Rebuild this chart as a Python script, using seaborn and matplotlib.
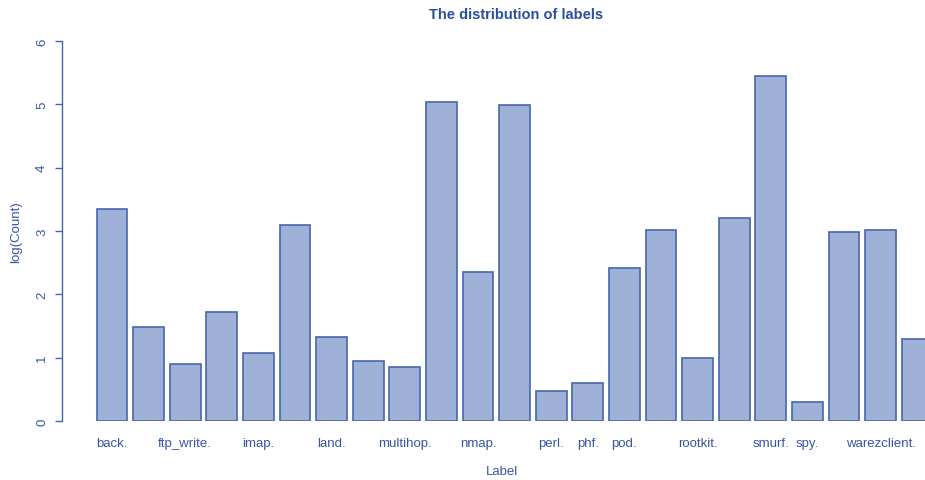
import numpy as np
import pandas as pd
import matplotlib
matplotlib.use("Agg")
import matplotlib.pyplot as plt
import seaborn as sns

# Attack / traffic labels and their log10 record counts
labels = ["back.", "buffer_overflow.", "ftp_write.", "guess_passwd.", "imap.",
          "ipsweep.", "land.", "loadmodule.", "multihop.", "neptune.", "nmap.",
          "normal.", "perl.", "phf.", "pod.", "portsweep.", "rootkit.", "satan.",
          "smurf.", "spy.", "teardrop.", "warezclient.", "warezmaster."]
log_count = [3.34, 1.48, 0.90, 1.72, 1.08, 3.10, 1.32, 0.95, 0.85, 5.03, 2.36,
             4.99, 0.48, 0.60, 2.42, 3.02, 1.00, 3.20, 5.45, 0.30, 2.99, 3.01, 1.30]
# Only the labels that fit without overlapping are printed under the bars
shown_labels = ["back.", "ftp_write.", "imap.", "land.", "multihop.", "nmap.",
                "perl.", "phf.", "pod.", "rootkit.", "smurf.", "spy.", "warezclient."]
y_ticks = [0, 1, 2, 3, 4, 5, 6]

TEXT = "#3556a3"
FILL = "#9fb1d6"
EDGE = "#4566ae"

sns.set_style("white")
plt.rcParams["font.family"] = ["Liberation Sans", "DejaVu Sans"]

df = pd.DataFrame({"Label": labels, "logc": log_count})

W, H = 925, 481
fig = plt.figure(figsize=(W / 100, H / 100), dpi=100)
ax_left, ax_right = 62, 925
ax_bottom, ax_top = 422, 42
ax = fig.add_axes([ax_left / W, (H - ax_bottom) / H,
                   (ax_right - ax_left) / W, (ax_bottom - ax_top) / H])

sns.barplot(data=df, x="Label", y="logc", order=labels, color=FILL,
            saturation=1, width=0.84, edgecolor=EDGE, linewidth=1.2, ax=ax)

pitch = 36.6
first_center = 112
ax.set_xlim((ax_left - first_center) / pitch, (ax_right - first_center) / pitch)
ax.set_ylim(0, 6)

for s in ["top", "right", "bottom"]:
    ax.spines[s].set_visible(False)
ax.spines["left"].set_color(EDGE)
ax.spines["left"].set_linewidth(1.0)
ax.spines["left"].set_bounds(0, 6)

ax.set_yticks(y_ticks)
ax.set_yticklabels([str(t) for t in y_ticks], rotation=90, va="center",
                   color=TEXT, fontsize=9.5)
ax.tick_params(axis="y", left=True, length=5, width=1.0, color=EDGE, pad=5)

ax.set_xticks(range(len(labels)))
ax.set_xticklabels([l if l in shown_labels else "" for l in labels],
                   color=TEXT, fontsize=9.5)
ax.tick_params(axis="x", bottom=False, pad=8)

ax.set_xlabel("")
ax.set_ylabel("")
fig.text(502 / W, 1 - 472 / H, "Label", ha="center", va="center",
         color=TEXT, fontsize=9.5)
fig.text(16 / W, 1 - 232 / H, "log(Count)", ha="center", va="center",
         rotation=90, color=TEXT, fontsize=9.5)
fig.text(516 / W, 1 - 15 / H, "The distribution of labels", ha="center",
         va="center", color="#2a4f9f", fontsize=10.5, fontweight="bold")

fig.savefig("out.png", dpi=100)
